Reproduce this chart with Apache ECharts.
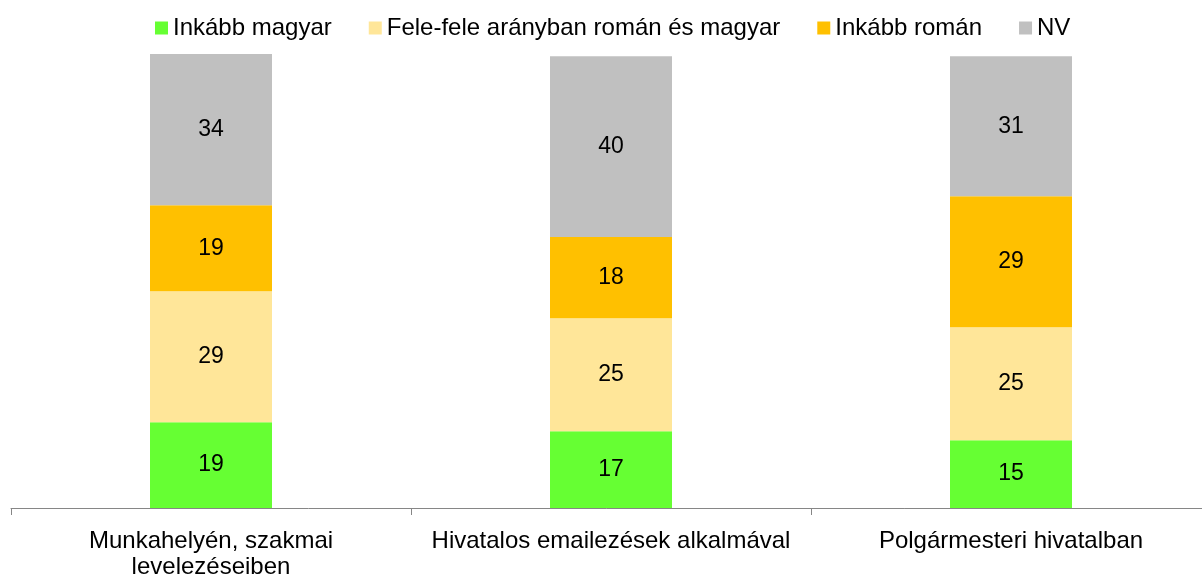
<!DOCTYPE html>
<html>
<head>
<meta charset="utf-8">
<script src="https://cdn.jsdelivr.net/npm/echarts@6/dist/echarts.min.js"></script>
<style>
  html, body { margin: 0; padding: 0; background: #fff; }
  #chart { width: 1202px; height: 574px; }
</style>
</head>
<body>
<div id="chart"></div>
<script>
const categories = ['Munkahelyén, szakmai\nlevelezéseiben', 'Hivatalos emailezések alkalmával', 'Polgármesteri hivatalban']
const seriesNames = ['Inkább magyar', 'Fele-fele arányban román és magyar', 'Inkább román', 'NV']
const colors = ['#66FF33', '#FFE699', '#FFC000', '#C0C0C0']
const inkabbMagyar = [19, 17, 15]
const feleFele = [29, 25, 25]
const inkabbRoman = [19, 18, 29]
const nv = [34, 40, 31]

const font = 'Liberation Sans, Arial, sans-serif'
const chart = echarts.init(document.getElementById('chart'))

const values = [inkabbMagyar, feleFele, inkabbRoman, nv]
const series = values.map((data, i) => ({
  name: seriesNames[i],
  type: 'bar',
  stack: 'total',
  barWidth: 122,
  data: data,
  itemStyle: { color: colors[i] },
  label: {
    show: true,
    position: 'inside',
    color: '#000',
    fontFamily: font,
    fontSize: 23
  }
}))

chart.setOption({
  animation: false,
  legend: {
    top: 11,
    left: 150,
    itemWidth: 13,
    itemHeight: 13,
    itemGap: 37,
    icon: 'rect',
    textStyle: { fontFamily: font, fontSize: 24, color: '#000' },
    data: seriesNames
  },
  grid: {
    left: 11,
    width: 1200,
    top: 54,
    bottom: 66,
    outerBoundsMode: 'none'
  },
  xAxis: {
    type: 'category',
    data: categories,
    axisLine: { lineStyle: { color: '#868686' } },
    axisTick: { show: true, length: 7, lineStyle: { color: '#868686' } },
    axisLabel: {
      interval: 0,
      color: '#000',
      fontFamily: font,
      fontSize: 24,
      margin: 20,
      lineHeight: 26
    }
  },
  yAxis: {
    type: 'value',
    min: 0,
    max: 100.5,
    show: false,
    splitLine: { show: false }
  },
  series: series
})
</script>
</body>
</html>
